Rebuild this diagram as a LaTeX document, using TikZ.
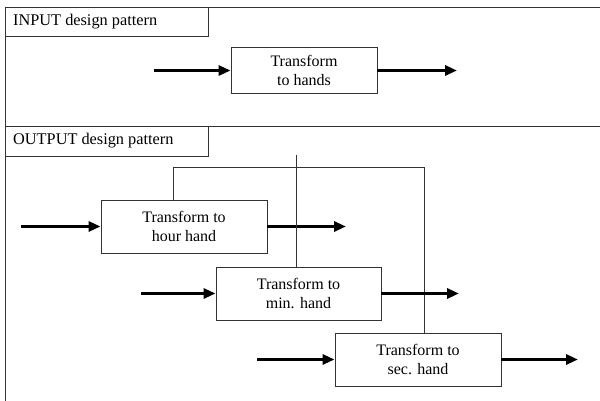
\documentclass[tikz,border=0pt]{standalone}
\usepackage{fontspec}
\setmainfont{Liberation Serif}
\usetikzlibrary{arrows.meta}
\begin{document}
\begin{tikzpicture}[x=1pt,y=-1pt,
  frame/.style={draw=black!80,line width=0.9pt},
  blk/.style={draw=black!80,line width=0.9pt,fill=white,align=center,
    inner sep=0pt,font=\fontsize{16}{18.4}\selectfont},
  title/.style={anchor=west,inner sep=0pt,font=\fontsize{16.3}{18.4}\selectfont},
  flow/.style={line width=3pt,-{Triangle[length=12pt,width=10pt]}},
  link/.style={draw=black!80,line width=0.9pt}]
\useasboundingbox (0,0) rectangle (600,401);
% panel frames
\draw[frame] (600,7) -- (5,7) -- (5,401);
\draw[frame] (5,126) -- (600,126);
\draw[frame] (5,7) rectangle (208,36);
\draw[frame] (5,126) rectangle (208,156);
\node[title] (tin) at (13,21.5) {INPUT design pattern};
\node[title] (tout) at (13,141) {OUTPUT design pattern};
% input pattern
\node[blk,minimum width=146,minimum height=46] (hands) at (304,70.5) {Transform\\to hands};
\coordinate (hin) at (154,70.5);
\coordinate (hout) at (457,70.5);
\draw[flow] (hin) -- (hands.west);
\draw[flow] (hands.east) -- (hout);
% output pattern links
\coordinate (c1) at (173,167);
\coordinate (c2) at (424,167);
\coordinate (v) at (296,155);
\node[blk,minimum width=166,minimum height=53] (hour) at (184,226.5) {Transform to\\hour hand};
\node[blk,minimum width=165,minimum height=53] (min) at (298.5,293.5) {Transform to\\min. hand};
\node[blk,minimum width=166,minimum height=53] (sec) at (418,359.5) {Transform to\\sec. hand};
\draw[link] (hour.north -| c1) |- (c2) -- (sec.north -| c2);
\coordinate (r1) at (21,226.5);
\coordinate (r2) at (346,226.5);
\coordinate (m1) at (141,293.5);
\coordinate (m2) at (459,293.5);
\coordinate (s1) at (257,359.5);
\coordinate (s2) at (578,359.5);
\draw[flow] (r1) -- (hour.west);
\draw[flow] (hour.east) -- (r2);
\draw[link] (v) -- (min.north -| v);
\draw[flow] (m1) -- (min.west);
\draw[flow] (min.east) -- (m2);
\draw[flow] (s1) -- (sec.west);
\draw[flow] (sec.east) -- (s2);
\end{tikzpicture}
\end{document}
